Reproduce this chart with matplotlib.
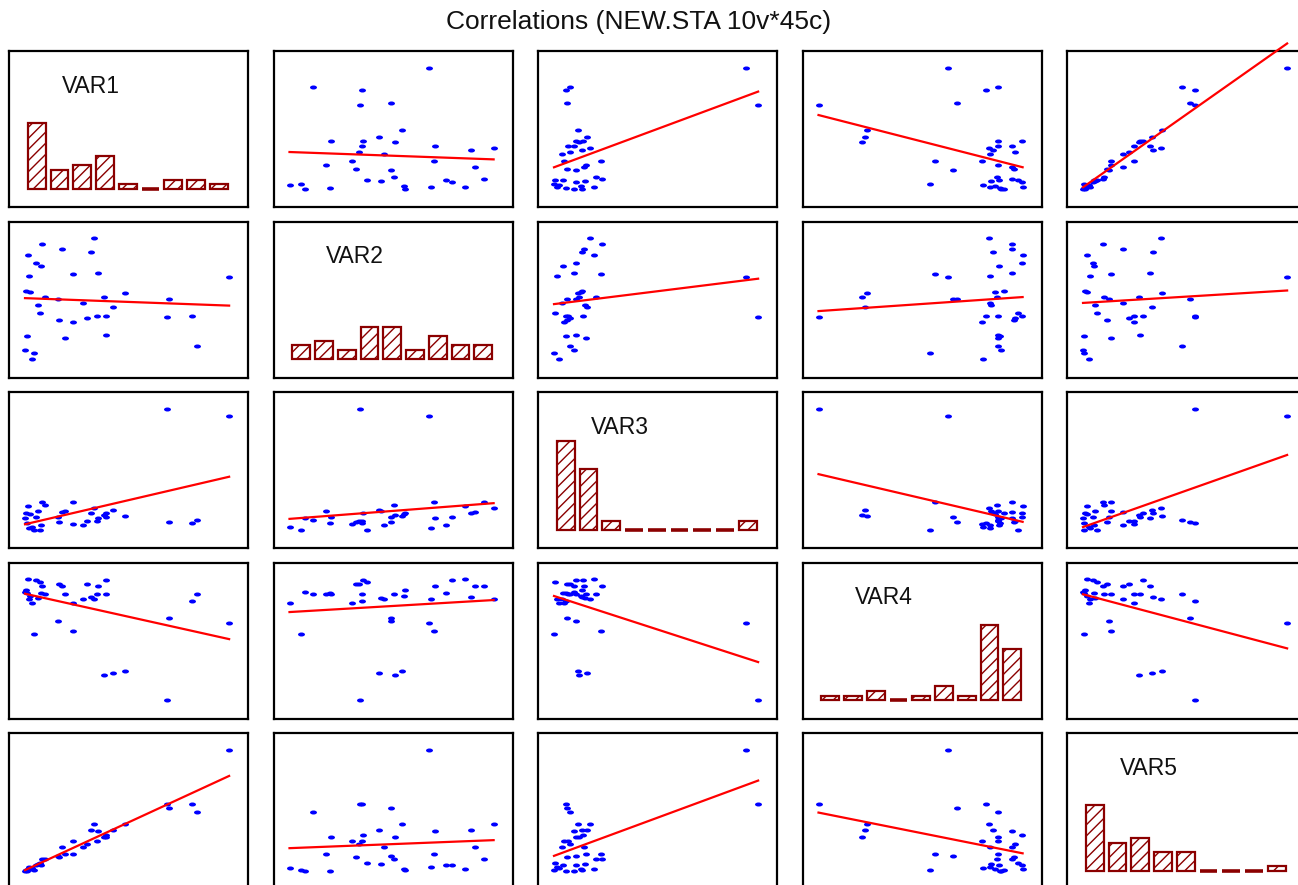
import numpy as np
import matplotlib
matplotlib.use("Agg")
import matplotlib.pyplot as plt
from matplotlib.path import Path
from matplotlib.transforms import Affine2D

plt.rcParams['font.family'] = ['Liberation Sans', 'DejaVu Sans']
plt.rcParams['hatch.color'] = '#8b0000'
plt.rcParams['hatch.linewidth'] = 1.0

title = "Correlations (NEW.STA 10v*45c)"
var_names = ["VAR1", "VAR2", "VAR3", "VAR4", "VAR5"]

VAR1 = [84.3, 81.8, 100.0, 69.4, 70.5, 49.0, 43.0, 39.7, 39.7, 38.6, 35.3, 35.8,
        32.2, 33.9, 30.3, 28.4, 23.4, 23.4, 19.6, 16.5, 16.0, 18.2, 9.9, 7.4,
        6.3, 7.7, 5.5, 8.3, 3.3, 4.4, 0.0, 0.8, 2.5, 0.3, 1.9, 1.4]
VAR2 = [11.4, 35.4, 68.2, 34.7, 49.6, 55.0, 43.6, 20.1, 35.9, 51.7, 35.4, 71.3,
        88.7, 100.0, 33.8, 46.2, 30.5, 70.6, 17.9, 32.6, 49.6, 90.9, 51.1, 38.0,
        44.7, 76.7, 79.4, 95.1, 0.0, 5.5, 7.7, 19.6, 56.0, 56.6, 69.2, 86.0]
VAR3 = [7.8, 6.0, 94.0, 100.0, 6.5, 11.8, 16.2, 10.9, 14.3, 12.2, 7.0, 9.9,
        13.6, 17.8, 7.6, 3.9, 5.0, 22.9, 15.7, 6.6, 11.0, 14.6, 20.4, 0.3,
        15.2, 4.4, 10.9, 23.3, 2.4, 0.0, 9.7, 6.0, 13.0, 13.6, 1.6, 19.4]
VAR4 = [88.1, 82.2, 63.6, 0.0, 68.0, 24.0, 23.0, 88.1, 99.7, 21.2, 88.1, 94.6,
        85.5, 83.7, 96.2, 83.8, 80.1, 57.1, 88.1, 95.9, 65.9, 94.6, 87.6, 97.6,
        84.3, 88.6, 99.7, 94.6, 80.4, 54.5, 89.4, 88.7, 86.3, 91.0, 84.0, 100.0]
VAR5 = [48.5, 55.0, 100.0, 55.0, 52.3, 38.8, 33.9, 27.9, 29.5, 27.6, 24.8, 32.8,
        34.1, 38.3, 22.6, 19.8, 24.8, 13.8, 13.8, 11.7, 12.5, 19.8, 10.1, 6.8,
        6.0, 5.2, 4.9, 9.7, 2.8, 0.6, 0.0, 0.3, 1.9, 1.1, 3.2, 1.9]

data = [np.array(v, dtype=float) for v in (VAR1, VAR2, VAR3, VAR4, VAR5)]
n = len(data)
nbins = 9

W, H = 1298, 885
fig = plt.figure(figsize=(W / 100, H / 100), dpi=100)
fig.patch.set_facecolor('white')

col_left = [9 + 264.5 * j for j in range(n)]
row_top = [51 + 170.5 * i for i in range(n)]
pw, ph = 239, 156

ell = Path.unit_circle().transformed(Affine2D().scale(1.0, 0.58))

def xlim_of(v):
    lo, hi = v.min(), v.max()
    R = hi - lo
    return lo - 0.067 / 0.854 * R, hi + 0.079 / 0.854 * R

def ylim_of(v):
    lo, hi = v.min(), v.max()
    R = hi - lo
    return lo - 0.116 / 0.777 * R, hi + 0.107 / 0.777 * R

for i in range(n):
    for j in range(n):
        left = col_left[j] / W
        bottom = (H - row_top[i] - ph) / H
        ax = fig.add_axes([left, bottom, pw / W, ph / H])
        ax.set_xticks([])
        ax.set_yticks([])
        for s in ax.spines.values():
            s.set_linewidth(1.6)
            s.set_color('black')
        if i == j:
            v = data[i]
            counts, edges = np.histogram(v, bins=nbins, range=(v.min(), v.max()))
            lo, hi = v.min(), v.max()
            R = hi - lo
            start = lo + 0.014 * R
            span = 0.979 * R
            bw = span / (nbins - 1 + 0.78)
            lefts = start + bw * np.arange(nbins)
            bars = ax.bar(lefts, counts, width=0.78 * bw, align='edge',
                          facecolor='white', edgecolor='#8b0000', hatch='///',
                          linewidth=1.6)
            for b, c in zip(bars, counts):
                if c == 0:
                    b.set_linewidth(2.6)
            ax.set_xlim(*xlim_of(v))
            ax.set_ylim(-3.85, 29.4)
            ax.text(0.22, 0.775, var_names[i], transform=ax.transAxes,
                    fontsize=16.5, ha='left', va='center', color='#111111')
        else:
            x = data[j]
            y = data[i]
            ax.plot(x, y, linestyle='none', marker=ell, markersize=5.0,
                    markerfacecolor='#0000ff', markeredgewidth=0, zorder=2)
            slope, icpt = np.polyfit(x, y, 1)
            xs = np.array([x.min(), x.max()])
            ax.plot(xs, icpt + slope * xs, color='#ff0000', linewidth=1.6,
                    clip_on=False, zorder=3)
            ax.set_xlim(*xlim_of(x))
            ax.set_ylim(*ylim_of(y))

fig.text(639 / W, 1 - 22 / H, title, ha='center', va='center', fontsize=19,
         color='#111111')

fig.savefig('out.png', dpi=100, facecolor='white')
